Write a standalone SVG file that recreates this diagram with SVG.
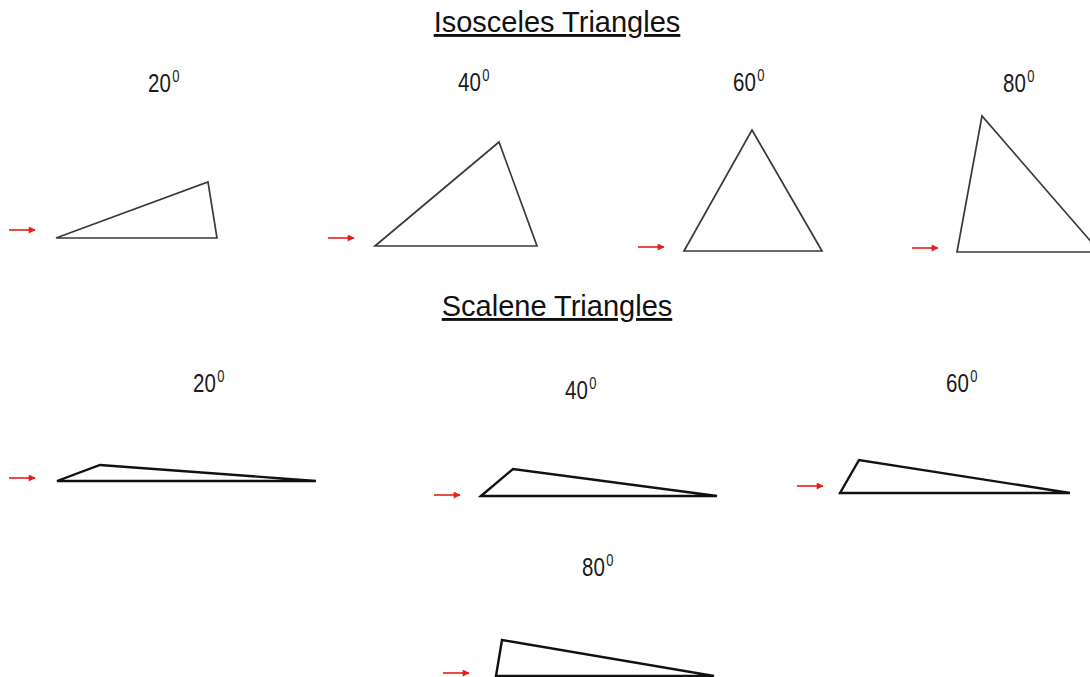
<svg xmlns="http://www.w3.org/2000/svg" width="1090" height="677" viewBox="0 0 1090 677">
<defs>
<marker id="ah" viewBox="0 0 10 10" refX="9" refY="5" markerWidth="8" markerHeight="7" markerUnits="userSpaceOnUse" orient="auto">
<path d="M0,0 L10,5 L0,10 z" fill="#e3201b"/>
</marker>
</defs>
<style>
.title{font-family:"Liberation Sans",Arial,sans-serif;font-size:29px;fill:#111;text-anchor:middle;text-decoration:underline}
.lbl{font-family:"Liberation Sans",Arial,sans-serif;font-size:20.5px;fill:#1a1a1a}
.sup{font-size:13px}
.iso{fill:none;stroke:#3a3a3a;stroke-width:1.7;stroke-linejoin:miter}
.sca{fill:none;stroke:#111;stroke-width:2.4;stroke-linejoin:miter}
.arr{stroke:#e3201b;stroke-width:1.6;fill:none;marker-end:url(#ah)}
</style>
<rect width="1090" height="677" fill="#fff"/>
<text class="title" x="557" y="32">Isosceles Triangles</text>
<text class="title" x="557" y="316">Scalene Triangles</text>

<g id="iso20">
<polygon class="iso" points="56,238 208,182 217,238"/>
<text class="lbl" transform="translate(148,92) scale(1,1.22)">20<tspan class="sup" dx="1.5" dy="-8">0</tspan></text>
</g>
<g id="iso40">
<polygon class="iso" points="375,246 499,142 537,246"/>
<text class="lbl" transform="translate(458,91) scale(1,1.22)">40<tspan class="sup" dx="1.5" dy="-8">0</tspan></text>
</g>
<g id="iso60">
<polygon class="iso" points="684,251 752,130 822,251"/>
<text class="lbl" transform="translate(733,91) scale(1,1.22)">60<tspan class="sup" dx="1.5" dy="-8">0</tspan></text>
</g>
<g id="iso80">
<polygon class="iso" points="957,252 982,116 1100,252"/>
<text class="lbl" transform="translate(1003,92) scale(1,1.22)">80<tspan class="sup" dx="1.5" dy="-8">0</tspan></text>
</g>

<g id="sca20">
<polygon class="sca" points="57,481 100,465 316,481"/>
<text class="lbl" transform="translate(193,392) scale(1,1.22)">20<tspan class="sup" dx="1.5" dy="-8">0</tspan></text>
</g>
<g id="sca40">
<polygon class="sca" points="481,496 513,469 717,496"/>
<text class="lbl" transform="translate(565,399) scale(1,1.22)">40<tspan class="sup" dx="1.5" dy="-8">0</tspan></text>
</g>
<g id="sca60">
<polygon class="sca" points="840,493 859,460 1070,493"/>
<text class="lbl" transform="translate(946,392) scale(1,1.22)">60<tspan class="sup" dx="1.5" dy="-8">0</tspan></text>
</g>
<g id="sca80">
<polygon class="sca" points="496,676 502,640 714,676"/>
<text class="lbl" transform="translate(582,576) scale(1,1.22)">80<tspan class="sup" dx="1.5" dy="-8">0</tspan></text>
</g>

<g id="connectors">
<line class="arr" x1="9" y1="230" x2="35" y2="230"/>
<line class="arr" x1="328" y1="238" x2="354" y2="238"/>
<line class="arr" x1="638" y1="247" x2="664" y2="247"/>
<line class="arr" x1="912" y1="248" x2="938" y2="248"/>
<line class="arr" x1="9" y1="478" x2="35" y2="478"/>
<line class="arr" x1="434" y1="495" x2="460" y2="495"/>
<line class="arr" x1="797" y1="486" x2="823" y2="486"/>
<line class="arr" x1="443" y1="673" x2="469" y2="673"/>
</g>
</svg>
